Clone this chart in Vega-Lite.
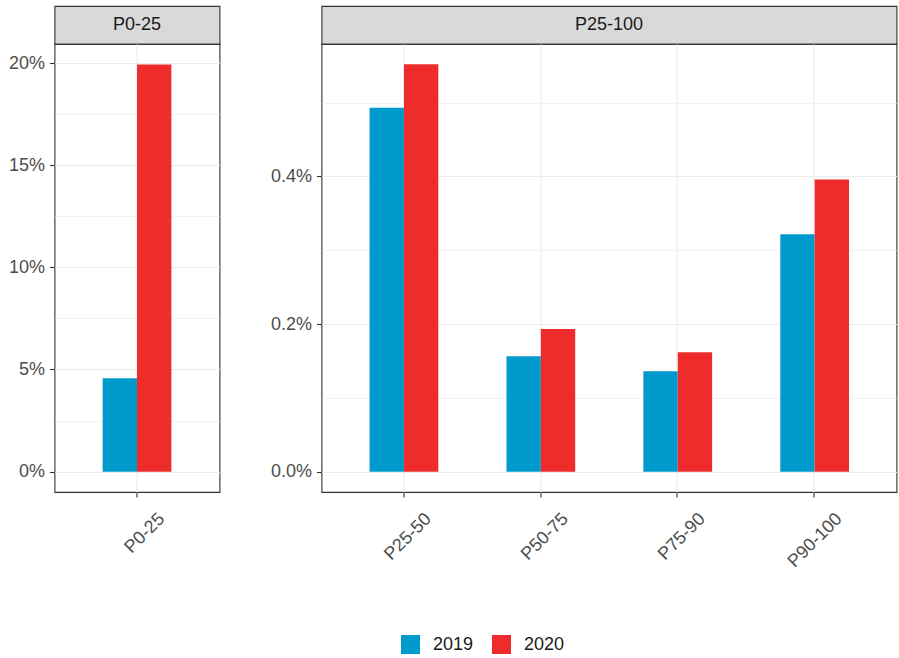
{
  "$schema": "https://vega.github.io/schema/vega-lite/v6.json",
  "background": "white",
  "padding": {"left": 7.5, "top": 5, "right": 2, "bottom": 5},
  "datasets": {
    "bars": [
      {"panel": "P0-25", "group": "P0-25", "year": "2019", "value": 0.0457},
      {"panel": "P0-25", "group": "P0-25", "year": "2020", "value": 0.1993},
      {"panel": "P25-100", "group": "P25-50", "year": "2019", "value": 0.004931},
      {"panel": "P25-100", "group": "P25-50", "year": "2020", "value": 0.005518},
      {"panel": "P25-100", "group": "P50-75", "year": "2019", "value": 0.001562},
      {"panel": "P25-100", "group": "P50-75", "year": "2020", "value": 0.001931},
      {"panel": "P25-100", "group": "P75-90", "year": "2019", "value": 0.001359},
      {"panel": "P25-100", "group": "P75-90", "year": "2020", "value": 0.001616},
      {"panel": "P25-100", "group": "P90-100", "year": "2019", "value": 0.003215},
      {"panel": "P25-100", "group": "P90-100", "year": "2020", "value": 0.003958}
    ],
    "strips": [
      {"label": "P0-25"},
      {"label": "P25-100"}
    ]
  },
  "columns": 2,
  "spacing": {"row": 0, "column": 102},
  "bounds": "flush",
  "align": "each",
  "concat": [
    {
      "data": {"name": "strips"},
      "transform": [{"filter": "datum.label === 'P0-25'"}],
      "width": 165,
      "height": 38,
      "view": {"fill": "#D9D9D9", "stroke": "#333333", "strokeWidth": 1.1},
      "mark": {"type": "text", "fontSize": 18, "color": "#1A1A1A", "font": "Liberation Sans", "baseline": "middle", "align": "center"},
      "encoding": {"text": {"field": "label", "type": "nominal"}}
    },
    {
      "data": {"name": "strips"},
      "transform": [{"filter": "datum.label === 'P25-100'"}],
      "width": 575,
      "height": 38,
      "view": {"fill": "#D9D9D9", "stroke": "#333333", "strokeWidth": 1.1},
      "mark": {"type": "text", "fontSize": 18, "color": "#1A1A1A", "font": "Liberation Sans", "baseline": "middle", "align": "center"},
      "encoding": {"text": {"field": "label", "type": "nominal"}}
    },
    {
      "data": {"name": "bars"},
      "transform": [{"filter": "datum.panel === 'P0-25'"}],
      "width": 165,
      "height": 448,
      "mark": {"type": "bar"},
      "encoding": {
        "x": {
          "field": "group", "type": "nominal", "sort": null, "title": null,
          "scale": {"paddingInner": 0, "paddingOuter": 0.1},
          "axis": {"labelAngle": -45, "labelAlign": "right", "labelBaseline": "middle", "labelOffset": 25, "labelPadding": 19, "grid": true, "bandPosition": 0.5}
        },
        "xOffset": {"field": "year", "type": "nominal", "scale": {"domain": ["2019", "2020"], "paddingInner": 0, "paddingOuter": 1}},
        "y": {
          "field": "value", "type": "quantitative", "title": null,
          "scale": {"domain": [-0.00997, 0.2093], "nice": false, "zero": false},
          "axis": {
            "values": [0, 0.025, 0.05, 0.075, 0.1, 0.125, 0.15, 0.175, 0.2],
            "format": ".0%",
            "labelExpr": "abs(datum.value*20 - round(datum.value*20)) < 0.000001 ? datum.label : ''",
            "tickOpacity": {"condition": {"test": "abs(datum.value*20 - round(datum.value*20)) > 0.000001", "value": 0}, "value": 1},
            "gridWidth": {"condition": {"test": "abs(datum.value*20 - round(datum.value*20)) > 0.000001", "value": 0.6}, "value": 1.1}
          }
        },
        "color": {"field": "year", "type": "nominal", "scale": {"domain": ["2019", "2020"], "range": ["#009ACD", "#EE2C2C"]}, "legend": {"title": null, "orient": "none", "legendX": 346.5, "legendY": 629}}
      }
    },
    {
      "data": {"name": "bars"},
      "transform": [{"filter": "datum.panel === 'P25-100'"}],
      "width": 575,
      "height": 448,
      "mark": {"type": "bar"},
      "encoding": {
        "x": {
          "field": "group", "type": "nominal", "sort": null, "title": null,
          "scale": {"paddingInner": 0, "paddingOuter": 0.1},
          "axis": {"labelAngle": -45, "labelAlign": "right", "labelBaseline": "middle", "labelOffset": 25, "labelPadding": 19, "grid": true, "bandPosition": 0.5}
        },
        "xOffset": {"field": "year", "type": "nominal", "scale": {"domain": ["2019", "2020"], "paddingInner": 0, "paddingOuter": 1}},
        "y": {
          "field": "value", "type": "quantitative", "title": null,
          "scale": {"domain": [-0.000276, 0.005794], "nice": false, "zero": false},
          "axis": {
            "values": [0, 0.001, 0.002, 0.003, 0.004, 0.005],
            "format": ".1%",
            "labelExpr": "abs(datum.value*500 - round(datum.value*500)) < 0.000001 ? datum.label : ''",
            "tickOpacity": {"condition": {"test": "abs(datum.value*500 - round(datum.value*500)) > 0.000001", "value": 0}, "value": 1},
            "gridWidth": {"condition": {"test": "abs(datum.value*500 - round(datum.value*500)) > 0.000001", "value": 0.6}, "value": 1.1}
          }
        },
        "color": {"field": "year", "type": "nominal", "scale": {"domain": ["2019", "2020"], "range": ["#009ACD", "#EE2C2C"]}, "legend": {"title": null, "orient": "none", "legendX": 346.5, "legendY": 629}}
      }
    }
  ],
  "config": {
    "font": "Liberation Sans",
    "view": {"stroke": "#333333", "strokeWidth": 1.1, "fill": "white"},
    "axis": {
      "labelFont": "Liberation Sans",
      "labelFontSize": 18,
      "labelColor": "#4D4D4D",
      "tickColor": "#333333",
      "tickSize": 5,
      "tickWidth": 1.1,
      "domain": false,
      "gridColor": "#EBEBEB",
      "gridWidth": 1.1,
      "labelPadding": 5
    },
    "legend": {
      "direction": "horizontal",
      "symbolType": "square",
      "symbolSize": 361,
      "symbolStrokeWidth": 0,
      "symbolOpacity": 1,
      "labelFont": "Liberation Sans",
      "labelFontSize": 18,
      "labelColor": "#1A1A1A",
      "labelOffset": 13,
      "columnPadding": 18
    }
  }
}
